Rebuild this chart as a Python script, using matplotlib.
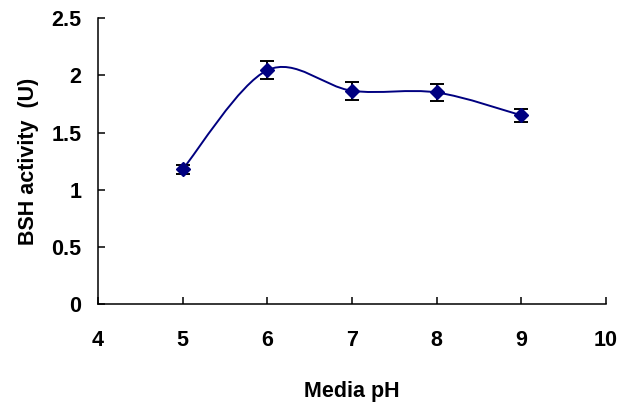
import numpy as np
import matplotlib
matplotlib.use('Agg')
import matplotlib.pyplot as plt
from matplotlib.path import Path
from matplotlib.patches import PathPatch

# BSH activity measured at each media pH, with standard deviation
ph = [5, 6, 7, 8, 9]
activity = [1.18, 2.045, 1.865, 1.85, 1.65]
activity_sd = [0.04, 0.08, 0.077, 0.078, 0.06]

x_ticks = [4, 5, 6, 7, 8, 9, 10]
y_ticks = [0, 0.5, 1, 1.5, 2, 2.5]

navy = '#000080'


def smoothPath(xs, ys):
    # cardinal-spline style Bezier through the points (spreadsheet "smoothed line")
    pts = np.column_stack([xs, ys]).astype(float)
    n = len(pts)
    verts = [pts[0]]
    codes = [Path.MOVETO]
    for i in range(n - 1):
        p0 = pts[max(i - 1, 0)]
        p1 = pts[i]
        p2 = pts[i + 1]
        p3 = pts[min(i + 2, n - 1)]
        c1 = p1 + (p2 - p0) / 6.0
        c2 = p2 - (p3 - p1) / 6.0
        verts += [c1, c2, p2]
        codes += [Path.CURVE4] * 3
    return Path(verts, codes)


plt.rcParams['font.family'] = ['Liberation Sans', 'DejaVu Sans']
plt.rcParams['font.weight'] = 'bold'

fig = plt.figure(figsize=(6.21, 4.04), dpi=100)
ax = fig.add_axes([0.158, 0.2475, 0.818, 0.7075])

ax.add_patch(PathPatch(smoothPath(ph, activity), facecolor='none',
                       edgecolor=navy, linewidth=1.4, zorder=2))
ax.errorbar(ph, activity, yerr=activity_sd, fmt='none', ecolor='black',
            elinewidth=1.4, capsize=5, capthick=1.4, zorder=3)
ax.plot(ph, activity, linestyle='none', marker='D', markersize=7.5,
        color=navy, zorder=4)

ax.set_xlim(4, 10)
ax.set_ylim(0, 2.5)
ax.set_xticks(x_ticks)
ax.set_yticks(y_ticks)
ax.set_xticklabels([str(t) for t in x_ticks])
ax.set_yticklabels(['0', '0.5', '1', '1.5', '2', '2.5'])

for side in ['top', 'right']:
    ax.spines[side].set_visible(False)
for side in ['left', 'bottom']:
    ax.spines[side].set_linewidth(1.1)
ax.tick_params(axis='both', direction='in', length=5, width=1.1,
               labelsize=15.5)
ax.tick_params(axis='x', pad=19)
ax.tick_params(axis='y', pad=12)

ax.set_xlabel('Media pH', fontsize=15.5, fontweight='bold', labelpad=21)
ax.set_ylabel('BSH activity  (U)', fontsize=15.5, fontweight='bold', labelpad=9)

fig.savefig('out.png', dpi=100)
